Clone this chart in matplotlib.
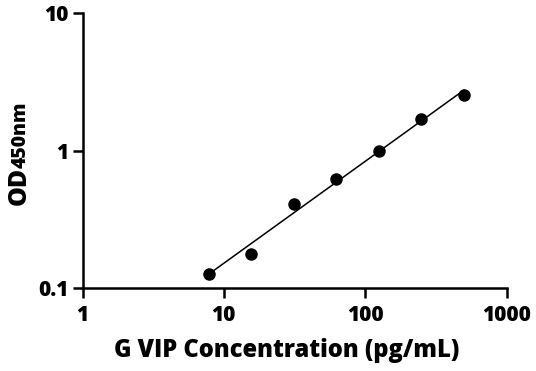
import numpy as np
import matplotlib
matplotlib.use("Agg")
import matplotlib.pyplot as plt

# Data
conc = [7.8125, 15.625, 31.25, 62.5, 125, 250, 500]
od = [0.128, 0.177, 0.41, 0.625, 1.0, 1.70, 2.53]
x_ticks = [1, 10, 100, 1000]
x_tick_labels = ["1", "10", "100", "1000"]
y_ticks = [0.1, 1, 10]
y_tick_labels = ["0.1", "1", "10"]

plt.rcParams['font.family'] = ['Open Sans', 'DejaVu Sans']
W = 'heavy'

fig = plt.figure(figsize=(5.36, 3.71), dpi=100)
ax = fig.add_axes([0.154, 0.223, 0.791, 0.742])

lx = np.log10(conc)
ly = np.log10(od)
p = np.polyfit(lx, ly, 1)
xf = np.logspace(lx[0], lx[-1], 100)
yf = 10 ** np.polyval(p, np.log10(xf))
ax.plot(xf, yf, color='black', lw=1.1, zorder=2)
ax.plot(conc, od, 'o', color='black', markersize=8, zorder=3, clip_on=False)

ax.set_xscale('log')
ax.set_yscale('log')
ax.set_xlim(1, 1000)
ax.set_ylim(0.1, 10)
ax.set_xticks(x_ticks)
ax.set_xticklabels(x_tick_labels)
ax.set_yticks(y_ticks)
ax.set_yticklabels(y_tick_labels)
ax.minorticks_off()
for s in ['top', 'right']:
    ax.spines[s].set_visible(False)
for s in ['left', 'bottom']:
    ax.spines[s].set_linewidth(1.8)
ax.tick_params(axis='both', which='major', width=1.8, length=7, labelsize=15)
ax.tick_params(axis='x', pad=5)
ax.tick_params(axis='y', pad=3)
for lab in ax.get_xticklabels() + ax.get_yticklabels():
    lab.set_fontweight(W)

ax.set_xlabel("G VIP Concentration (pg/mL)", fontsize=17, fontweight=W)
ax.xaxis.set_label_coords((287 - 82.7) / 424, -0.18)
ax.xaxis.label.set_va('top')

fig.canvas.draw()
renderer = fig.canvas.get_renderer()
xb = 26 / 536
y0 = 1 - 205 / 371
t1 = fig.text(xb, y0, "OD", rotation=90, rotation_mode='anchor', ha='left', va='baseline',
              fontsize=18, fontweight=W)
bb = t1.get_window_extent(renderer)
h = (bb.height - 1) / fig.bbox.height
fig.text(xb, y0 + h, "450nm", rotation=90, rotation_mode='anchor', ha='left', va='baseline',
         fontsize=14, fontweight=W)

fig.savefig("out.png", dpi=100)
